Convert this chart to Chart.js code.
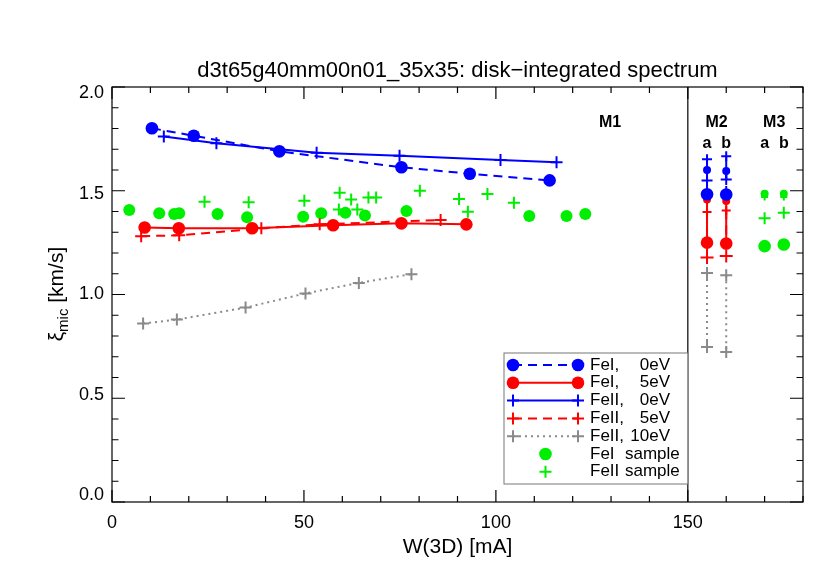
<!DOCTYPE html>
<html>
<head>
<meta charset="utf-8">
<title>disk-integrated spectrum</title>
<script src="https://cdn.jsdelivr.net/npm/chart.js@4.4.1/dist/chart.umd.min.js"></script>
<style>
  html, body { margin: 0; padding: 0; background: #fff; }
  #wrap { width: 830px; height: 561px; }
</style>
</head>
<body>
<div id="wrap"><canvas id="chart" width="830" height="561"></canvas></div>
<script>
// M1 panel: x = W(3D) [mA], y = xi_mic [km/s]
const feI0X = [10.4, 21.3, 43.6, 75.4, 93.2, 114.0];
const feI0Y = [1.801, 1.765, 1.690, 1.613, 1.582, 1.550];
const feI5X = [8.5, 17.4, 36.5, 57.6, 75.4, 92.3];
const feI5Y = [1.323, 1.319, 1.319, 1.334, 1.343, 1.338];
const feII0X = [13.5, 27.2, 53.3, 74.9, 101.2, 115.8];
const feII0Y = [1.761, 1.729, 1.683, 1.669, 1.648, 1.637];
const feII5X = [7.6, 17.5, 38.9, 54.1, 85.6];
const feII5Y = [1.281, 1.285, 1.319, 1.338, 1.359];
const feII10X = [8.1, 16.9, 34.8, 50.4, 64.3, 78.0];
const feII10Y = [0.860, 0.879, 0.937, 1.005, 1.056, 1.098];

const feISampleX = [4.5, 12.3, 16.2, 17.5, 27.5, 35.2, 49.8, 54.5, 60.8, 65.9, 76.7, 108.7, 118.4, 123.3];
const feISampleY = [1.407, 1.391, 1.388, 1.391, 1.388, 1.372, 1.375, 1.391, 1.394, 1.381, 1.402, 1.378, 1.378, 1.388];
const feIISampleX = [24.1, 35.6, 50.1, 59.3, 62.3, 66.8, 68.8, 59.1, 63.9, 80.2, 90.4, 92.7, 97.8, 104.7];
const feIISampleY = [1.447, 1.444, 1.452, 1.490, 1.458, 1.468, 1.468, 1.410, 1.410, 1.500, 1.460, 1.399, 1.484, 1.442];

// M2 panel: columns a and b, each series has a pair of values
const m2Cols = [155, 160];
const m2aFeI0 = [1.600, 1.483];
const m2bFeI0 = [1.595, 1.482];
const m2aFeII0 = [1.652, 1.550];
const m2bFeII0 = [1.666, 1.554];
const m2aFeI5 = [1.458, 1.250];
const m2bFeI5 = [1.451, 1.246];
const m2aFeII5 = [1.397, 1.178];
const m2bFeII5 = [1.405, 1.185];
const m2aFeII10 = [1.104, 0.747];
const m2bFeII10 = [1.093, 0.723];

// M3 panel: sample values
const m3Cols = [170, 175];
const m3aFeI = [1.485, 1.233];
const m3bFeI = [1.485, 1.241];
const m3aFeII = [1.470, 1.367];
const m3bFeII = [1.470, 1.394];

const xTickValues = [0, 50, 100, 150];
const yTickValues = [0, 0.5, 1.0, 1.5, 2.0];

const BLUE = "#0000ff";
const RED = "#ff0000";
const GRAY = "#8a8a8a";
const GREEN = "#00ee00";
const FONT = "'Liberation Sans', Arial, Helvetica, sans-serif";

function pts(xs, ys) {
  return xs.map((x, i) => ({ x: x, y: ys[i] }));
}

function col(x, ys) {
  return ys.map((y) => ({ x: x, y: y }));
}

function line(data, color, style, dash, radius) {
  const cross = style === "cross";
  return {
    data: data,
    showLine: true,
    borderColor: color,
    backgroundColor: color,
    borderWidth: 2,
    borderDash: dash,
    pointStyle: style,
    pointRadius: radius,
    pointBorderColor: color,
    pointBackgroundColor: color,
    pointBorderWidth: cross ? 2 : 0,
    tension: 0
  };
}

function marks(data, color, style, radius) {
  const d = line(data, color, style, [], radius);
  d.showLine = false;
  return d;
}

const DASH = [9, 6];
const DOT = [2, 4];
const big = 6.3;
const plus = 6;

const datasets = [
  line(pts(feI0X, feI0Y), BLUE, "circle", DASH, big),
  line(pts(feI5X, feI5Y), RED, "circle", [], big),
  line(pts(feII0X, feII0Y), BLUE, "cross", [], plus),
  line(pts(feII5X, feII5Y), RED, "cross", DASH, plus),
  line(pts(feII10X, feII10Y), GRAY, "cross", DOT, plus),

  line(col(m2Cols[0], m2aFeI0), BLUE, "circle", DASH, [4, big]),
  line(col(m2Cols[1], m2bFeI0), BLUE, "circle", DASH, [4, big]),
  line(col(m2Cols[0], m2aFeII0), BLUE, "cross", [], [5, 5.5]),
  line(col(m2Cols[1], m2bFeII0), BLUE, "cross", [], [5, 5.5]),
  line(col(m2Cols[0], m2aFeI5), RED, "circle", [], [4, big]),
  line(col(m2Cols[1], m2bFeI5), RED, "circle", [], [4, big]),
  line(col(m2Cols[0], m2aFeII5), RED, "cross", DASH, [4.5, 6.5]),
  line(col(m2Cols[1], m2bFeII5), RED, "cross", DASH, [4.5, 6.5]),
  line(col(m2Cols[0], m2aFeII10), GRAY, "cross", DOT, plus),
  line(col(m2Cols[1], m2bFeII10), GRAY, "cross", DOT, plus),

  marks(col(m3Cols[0], m3aFeI), GREEN, "circle", [4, big]),
  marks(col(m3Cols[1], m3bFeI), GREEN, "circle", [4, big]),
  marks(col(m3Cols[0], m3aFeII), GREEN, "cross", [3.5, plus]),
  marks(col(m3Cols[1], m3bFeII), GREEN, "cross", [3.5, plus]),

  marks(pts(feISampleX, feISampleY), GREEN, "circle", 6),
  marks(pts(feIISampleX, feIISampleY), GREEN, "cross", plus)
];

const legendRows = [
  { name: "FeI,", extra: "0eV", color: BLUE, style: "circle", dash: DASH, line: true },
  { name: "FeI,", extra: "5eV", color: RED, style: "circle", dash: [], line: true },
  { name: "FeII,", extra: "0eV", color: BLUE, style: "cross", dash: [], line: true },
  { name: "FeII,", extra: "5eV", color: RED, style: "cross", dash: DASH, line: true },
  { name: "FeII,", extra: "10eV", color: GRAY, style: "cross", dash: DOT, line: true },
  { name: "FeI", extra: "sample", color: GREEN, style: "circle", dash: [], line: false },
  { name: "FeII", extra: "sample", color: GREEN, style: "cross", dash: [], line: false }
];

function marker(ctx, style, x, y, color, r) {
  ctx.save();
  ctx.fillStyle = color;
  ctx.strokeStyle = color;
  ctx.lineWidth = 2;
  ctx.setLineDash([]);
  ctx.beginPath();
  if (style === "circle") {
    ctx.arc(x, y, r, 0, Math.PI * 2);
    ctx.fill();
  } else {
    ctx.moveTo(x - r, y);
    ctx.lineTo(x + r, y);
    ctx.moveTo(x, y - r);
    ctx.lineTo(x, y + r);
    ctx.stroke();
  }
  ctx.restore();
}

const idlFrame = {
  id: "idlFrame",
  afterDraw(chart) {
    const ctx = chart.ctx;
    const a = chart.chartArea;
    const xs = chart.scales.x;
    const ys = chart.scales.y;

    ctx.save();
    ctx.strokeStyle = "#000";
    ctx.lineWidth = 1.2;
    ctx.strokeRect(a.left, a.top, a.right - a.left, a.bottom - a.top);

    // separator between M1 and M2
    const xs150 = xs.getPixelForValue(150);
    ctx.beginPath();
    ctx.moveTo(xs150, a.top);
    ctx.lineTo(xs150, a.bottom);
    ctx.stroke();

    // ticks on all four sides
    ctx.beginPath();
    for (let v = 0; v <= 180; v += 10) {
      const px = xs.getPixelForValue(v);
      const len = v % 50 === 0 ? 12 : 6;
      ctx.moveTo(px, a.bottom);
      ctx.lineTo(px, a.bottom - len);
      ctx.moveTo(px, a.top);
      ctx.lineTo(px, a.top + len);
    }
    for (let i = 0; i <= 20; i++) {
      const py = ys.getPixelForValue(i / 10);
      const len = i % 5 === 0 ? 13 : 6.5;
      ctx.moveTo(a.left, py);
      ctx.lineTo(a.left + len, py);
      ctx.moveTo(a.right, py);
      ctx.lineTo(a.right - len, py);
    }
    ctx.stroke();

    ctx.fillStyle = "#000";

    // y tick labels, edge labels kept inside the axis like IDL does
    ctx.font = "18px " + FONT;
    ctx.textAlign = "right";
    ctx.textBaseline = "middle";
    yTickValues.forEach((v) => {
      ctx.fillText(v.toFixed(1), a.left - 8, ys.getPixelForValue(v) + (v - 1) * 6.5);
    });

    // title
    ctx.font = "22px " + FONT;
    ctx.textAlign = "center";
    ctx.textBaseline = "alphabetic";
    ctx.fillText("d3t65g40mm00n01_35x35: disk\u2212integrated spectrum", (a.left + a.right) / 2, 77);

    // x title
    ctx.font = "21px " + FONT;
    ctx.fillText("W(3D) [mA]", (a.left + a.right) / 2, 553);

    // y title with subscript
    ctx.save();
    ctx.translate(63, 0);
    ctx.rotate(-Math.PI / 2);
    ctx.textAlign = "left";
    const big1 = "21px " + FONT;
    const sub = "15px " + FONT;
    ctx.font = big1;
    const w1 = ctx.measureText("\u03be").width;
    const w3 = ctx.measureText(" [km/s]").width;
    ctx.font = sub;
    const w2 = ctx.measureText("mic").width;
    let start = -(294 + (w1 + w2 + w3) / 2);
    ctx.font = big1;
    ctx.fillText("\u03be", start, 0);
    ctx.font = sub;
    ctx.fillText("mic", start + w1, 5);
    ctx.font = big1;
    ctx.fillText(" [km/s]", start + w1 + w2, 0);
    ctx.restore();

    // panel labels
    ctx.font = "bold 16px " + FONT;
    ctx.textAlign = "center";
    ctx.textBaseline = "middle";
    ctx.fillText("M1", 610, 123);
    ctx.fillText("M2", (xs.getPixelForValue(m2Cols[0]) + xs.getPixelForValue(m2Cols[1])) / 2, 123);
    ctx.fillText("M3", (xs.getPixelForValue(m3Cols[0]) + xs.getPixelForValue(m3Cols[1])) / 2, 123);
    ctx.fillText("a", xs.getPixelForValue(m2Cols[0]), 144);
    ctx.fillText("b", xs.getPixelForValue(m2Cols[1]), 144);
    ctx.fillText("a", xs.getPixelForValue(m3Cols[0]), 144);
    ctx.fillText("b", xs.getPixelForValue(m3Cols[1]), 144);

    // legend box
    const bx = 504, by = 353, bw = xs150 - 504, bh = 131;
    ctx.fillStyle = "#fff";
    ctx.fillRect(bx, by, bw, bh);
    ctx.strokeStyle = "#777";
    ctx.lineWidth = 1;
    ctx.strokeRect(bx, by, bw, bh);

    ctx.font = "17px " + FONT;
    ctx.textBaseline = "middle";
    legendRows.forEach((row, i) => {
      const y = 365 + i * 17.8;
      const x1 = 513, x2 = 578;
      if (row.line) {
        ctx.save();
        ctx.strokeStyle = row.color;
        ctx.lineWidth = 2;
        ctx.setLineDash(row.dash);
        ctx.beginPath();
        ctx.moveTo(x1, y);
        ctx.lineTo(x2, y);
        ctx.stroke();
        ctx.restore();
        const r = row.style === "circle" ? big : plus;
        marker(ctx, row.style, x1, y, row.color, r);
        marker(ctx, row.style, x2, y, row.color, r);
      } else {
        marker(ctx, row.style, (x1 + x2) / 2, y, row.color, row.style === "circle" ? big : plus);
      }
      ctx.fillStyle = "#000";
      ctx.textAlign = "left";
      ctx.fillText(row.name, 590, y);
      if (row.line) {
        ctx.textAlign = "right";
        ctx.fillText(row.extra, 670, y);
      } else {
        ctx.fillText(row.extra, 625, y);
      }
    });
    ctx.restore();
  }
};

new Chart(document.getElementById("chart"), {
  type: "scatter",
  data: { datasets: datasets },
  options: {
    responsive: false,
    animation: false,
    devicePixelRatio: 1,
    layout: { padding: { top: 87, right: 27, left: 0, bottom: 0 } },
    plugins: {
      legend: { display: false },
      tooltip: { enabled: false },
      title: { display: false }
    },
    scales: {
      x: {
        type: "linear",
        min: 0,
        max: 180,
        grid: { display: false, drawTicks: false },
        border: { display: false },
        ticks: {
          color: "#000",
          font: { family: FONT, size: 18 },
          padding: 10,
          maxRotation: 0,
          callback: (v) => String(v)
        },
        afterBuildTicks: (s) => { s.ticks = xTickValues.map((v) => ({ value: v })); },
        afterFit: (s) => { s.height = 59; }
      },
      y: {
        type: "linear",
        min: 0,
        max: 2,
        grid: { display: false, drawTicks: false },
        border: { display: false },
        ticks: { display: false },
        afterBuildTicks: (s) => { s.ticks = yTickValues.map((v) => ({ value: v })); },
        afterFit: (s) => { s.width = 112; }
      }
    }
  },
  plugins: [idlFrame]
});
</script>
</body>
</html>
